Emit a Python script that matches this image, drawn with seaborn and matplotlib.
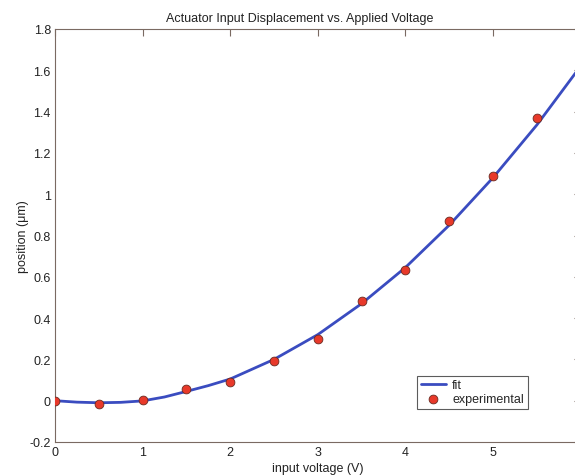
import matplotlib
matplotlib.use("Agg")
import matplotlib.pyplot as plt
import seaborn as sns
import pandas as pd

# experimental data
voltage = [0.0, 0.5, 1.0, 1.5, 2.0, 2.5, 3.0, 3.5, 4.0, 4.5, 5.0, 5.5]
position = [0.0, -0.015, 0.003, 0.058, 0.092, 0.194, 0.30, 0.484, 0.634, 0.872, 1.09, 1.37]

# fit curve
fit_voltage = [0.0, 0.25, 0.5, 0.75, 1.0, 1.25, 1.5, 1.75, 2.0, 2.5, 3.0, 3.5, 4.0, 4.5, 5.0, 5.5, 6.0]
fit_position = [0.0, -0.007, -0.01, -0.008, -0.001, 0.018, 0.045, 0.073, 0.105, 0.2, 0.32, 0.47, 0.645, 0.85, 1.08, 1.335, 1.62]

xticks = [0, 1, 2, 3, 4, 5]
yticks = [-0.2, 0, 0.2, 0.4, 0.6, 0.8, 1, 1.2, 1.4, 1.6, 1.8]
ytick_labels = ["-0.2", "0", "0.2", "0.4", "0.6", "0.8", "1", "1.2", "1.4", "1.6", "1.8"]

sns.set_style("white")
plt.rcParams['font.family'] = ['Liberation Sans', 'DejaVu Sans']

df_exp = pd.DataFrame({"v": voltage, "p": position})
df_fit = pd.DataFrame({"v": fit_voltage, "p": fit_position})

fig = plt.figure(figsize=(5.75, 4.77), dpi=100)
W, H = 575, 477
left, right_px, top_px, bottom_px = 55, 580.6, 30, 443
ax = fig.add_axes([left / W, 1 - bottom_px / H, (right_px - left) / W, (bottom_px - top_px) / H])

sns.lineplot(data=df_fit, x="v", y="p", ax=ax, color="#3a4cc0", linewidth=2.0, label="fit")
sns.scatterplot(data=df_exp, x="v", y="p", ax=ax, color="#e8392a", edgecolor="#6a2a20",
                linewidth=0.6, s=40, label="experimental", zorder=3)

ax.set_xlim(0, 6)
ax.set_ylim(-0.2, 1.8)
ax.set_xticks(xticks)
ax.set_xticklabels([str(t) for t in xticks])
ax.set_yticks(yticks)
ax.set_yticklabels(ytick_labels)

spine_color = "#7a6a62"
for s in ax.spines.values():
    s.set_color(spine_color)
    s.set_linewidth(0.8)
ax.tick_params(direction="in", length=5, width=0.8, color=spine_color,
               top=True, right=True, labelsize=9, labelcolor="#222222", pad=3)

ax.set_xlabel("input voltage (V)", fontsize=9, color="#222222", labelpad=3)
ax.set_ylabel("position (\u03bcm)", fontsize=9, color="#222222", labelpad=0)
ax.set_title("Actuator Input Displacement vs. Applied Voltage", fontsize=9, color="#222222",
             pad=6, x=(300 - left) / (right_px - left))

leg = ax.legend(loc="lower left", bbox_to_anchor=(0.689, 0.08), borderaxespad=0,
                frameon=True, fancybox=False, fontsize=9, handlelength=2.0,
                handletextpad=0.5, borderpad=0.3, labelspacing=0.15)
leg.get_frame().set_edgecolor("#333333")
leg.get_frame().set_linewidth(0.8)

fig.savefig("out.png", dpi=100)
